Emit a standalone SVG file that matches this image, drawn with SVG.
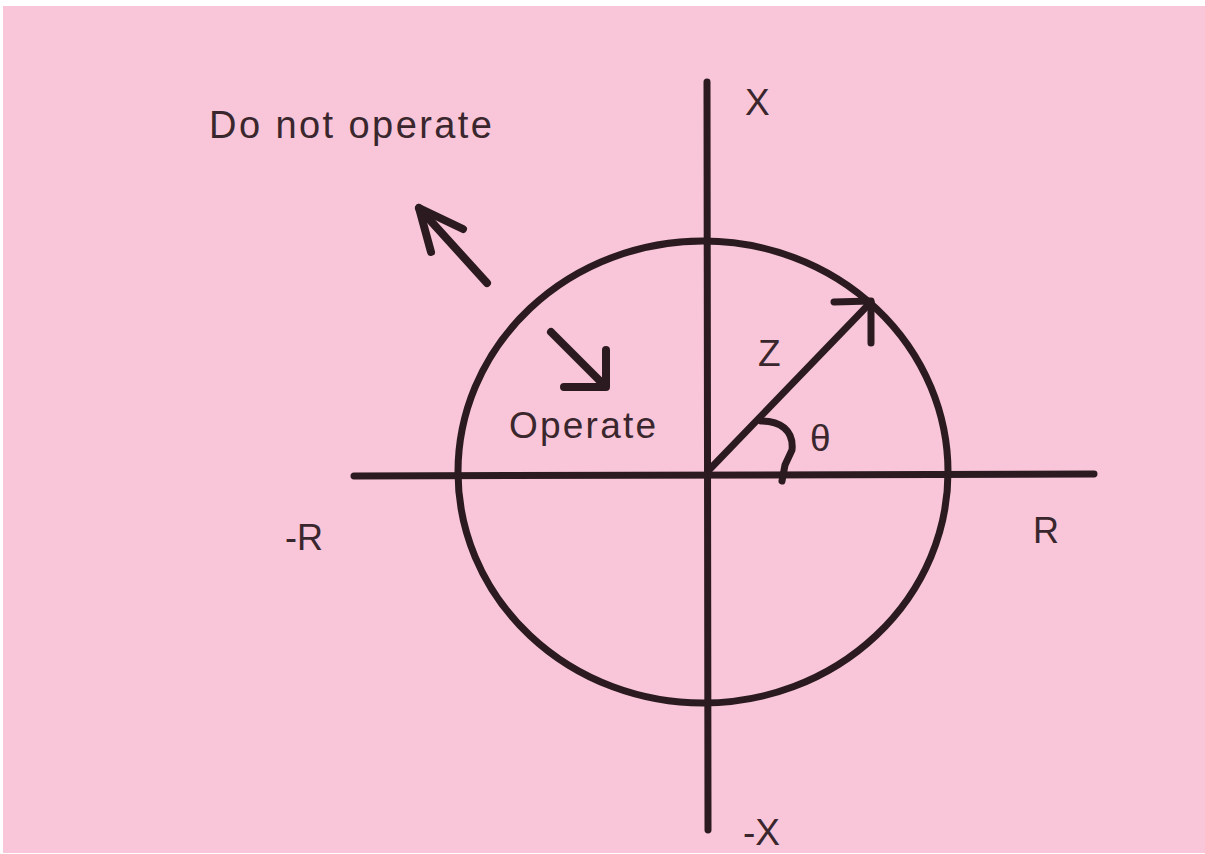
<svg xmlns="http://www.w3.org/2000/svg" width="1205" height="854" viewBox="0 0 1205 854">
<style>
.ln{stroke:#2b1b20;stroke-width:7;fill:none;stroke-linecap:round;stroke-linejoin:round}
.ar{stroke:#2b1b20;stroke-width:8;fill:none;stroke-linecap:round;stroke-linejoin:round}
.t{font-family:"Liberation Sans",Arial,sans-serif;fill:#3a262d}
</style>
<rect width="1205" height="854" fill="#ffffff"/>
<rect x="3" y="6" width="1202" height="847" fill="#f9c5d8"/>
<g id="axes">
<line class="ln" x1="707" y1="82" x2="708" y2="830"/>
<line class="ln" x1="354" y1="476" x2="1094" y2="474"/>
</g>
<g id="circle">
<ellipse class="ln" cx="703" cy="472" rx="245" ry="231"/>
</g>
<g id="connectors">
<line class="ln" x1="709" y1="470" x2="871" y2="302"/>
<path class="ln" d="M834,302 L871,301 L871,343"/>
<path class="ln" d="M761,421 C780,421 794,430 792,450 L785,465 L782,481"/>
<line class="ar" x1="487" y1="283" x2="419" y2="208"/>
<path class="ar" d="M463,229 L419,208 L431,252"/>
<line class="ar" x1="551" y1="332" x2="605" y2="386"/>
<path class="ar" d="M564,387 L606,387 L606,350"/>
</g>
<g id="labels">
<text class="t" x="745" y="115" font-size="37">X</text>
<text class="t" x="743" y="845" font-size="37">-X</text>
<text class="t" x="285" y="550" font-size="36">-R</text>
<text class="t" x="1033" y="543" font-size="36">R</text>
<text class="t" x="758" y="366" font-size="37">Z</text>
<text class="t" x="810" y="451" font-size="37">θ</text>
<text class="t" x="209" y="138" font-size="38" textLength="283" lengthAdjust="spacing">Do not operate</text>
<text class="t" x="509" y="438" font-size="37" textLength="147" lengthAdjust="spacing">Operate</text>
</g>
</svg>
